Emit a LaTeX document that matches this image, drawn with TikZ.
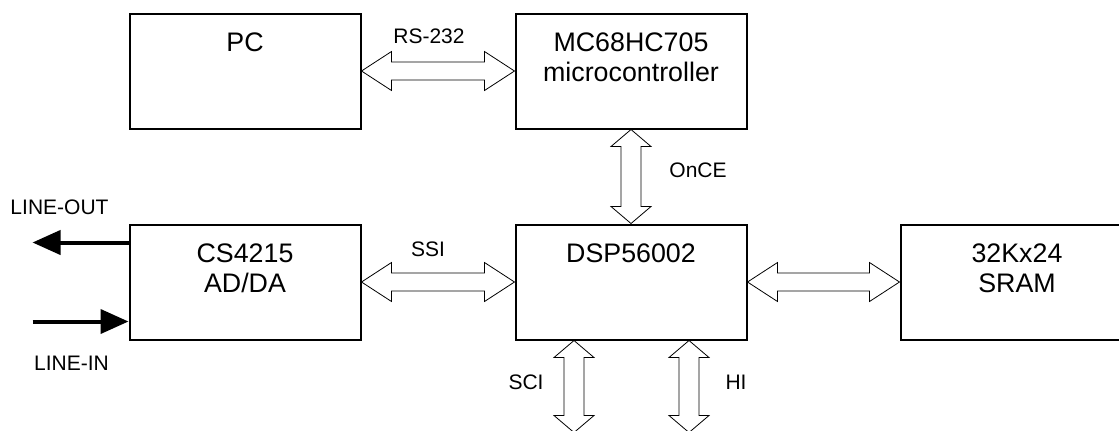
\documentclass[tikz,border=0pt]{standalone}
\usepackage{fontspec}
\setmainfont{Liberation Sans}
\usetikzlibrary{arrows.meta, positioning, calc}

\begin{document}
\begin{tikzpicture}[node distance=47pt and 76.5pt,
    block/.style={draw, line width=1pt, minimum width=115.5pt, minimum height=57.5pt, inner sep=0pt},
    blocktext/.style={anchor=north, yshift=-10pt, inner sep=0pt, align=center, font=\fontsize{13.4}{15}\selectfont},
    lbl/.style={inner sep=0pt, font=\fontsize{10.5}{12}\selectfont},
    sig/.style={line width=2pt, -{Triangle[length=14pt, width=12pt]}},
    hbus/.style={draw, line width=1pt, to path={(\tikztostart) -- ++(15pt,9.75pt) -- ++(0,-5.25pt)
        -- ($(\tikztotarget)+(-15pt,4.5pt)$) -- ++(0,5.25pt) -- (\tikztotarget) -- ++(-15pt,-9.75pt)
        -- ++(0,5.25pt) -- ($(\tikztostart)+(15pt,-4.5pt)$) -- ++(0,-5.25pt) -- cycle}},
    vbus/.style={draw, line width=1pt, to path={(\tikztostart) -- ++(10pt,-8.5pt) -- ++(-5pt,0)
        -- ($(\tikztotarget)+(5pt,8.5pt)$) -- ++(5pt,0) -- (\tikztotarget) -- ++(-10pt,8.5pt)
        -- ++(5pt,0) -- ($(\tikztostart)+(-5pt,-8.5pt)$) -- ++(-5pt,0) -- cycle}}]
    \useasboundingbox (0,0) rectangle (559.5pt,-215pt);

    \node[block, label={[blocktext]north:PC}] (pc) at (122.5pt,-35.5pt) {};
    \node[block, right=of pc, label={[blocktext]north:MC68HC705\\microcontroller}] (mc) {};
    \node[block, below=of mc, label={[blocktext]north:DSP56002}] (dsp) {};
    \node[block, left=of dsp, label={[blocktext]north:CS4215\\AD/DA}] (cs) {};
    \node[block, minimum width=150pt, right=76pt of dsp,
        label={[blocktext, xshift=-16.75pt]north:32Kx24\\SRAM}] (sram) {};

    \coordinate (sciout) at ($(dsp.south)+(-28.5pt,-46pt)$);
    \coordinate (hiout) at ($(dsp.south)+(29pt,-46pt)$);
    \coordinate (outend) at ($(cs.north west)+(-48pt,-9.5pt)$);
    \coordinate (inend) at ($(cs.south west)+(-48pt,9.5pt)$);

    \draw (pc.east) to[hbus] (mc.west);
    \draw (cs.east) to[hbus] (dsp.west);
    \draw (dsp.east) to[hbus] (sram.west);
    \draw (mc.south) to[vbus] (dsp.north);
    \draw (dsp.south -| sciout) to[vbus] (sciout);
    \draw (dsp.south -| hiout) to[vbus] (hiout);
    \draw[sig] (cs.west |- outend) -- (outend);
    \draw[sig] (inend) -- (cs.west |- inend);

    \node[lbl] (rs232) at ($(pc.east)!.5!(mc.west)+(-4.5pt,17.5pt)$) {RS-232};
    \node[lbl] (ssi) at ($(cs.east)!.5!(dsp.west)+(-5pt,16.5pt)$) {SSI};
    \node[lbl] (once) at ($(mc.south)!.5!(dsp.north)+(33.5pt,3pt)$) {OnCE};
    \node[lbl] (sci) at ($(sciout)+(-24pt,25pt)$) {SCI};
    \node[lbl] (hi) at ($(hiout)+(23.5pt,25pt)$) {HI};
    \node[lbl] (lineout) at ($(outend)+(13.5pt,17.5pt)$) {LINE-OUT};
    \node[lbl] (linein) at ($(inend)+(19.5pt,-21pt)$) {LINE-IN};
\end{tikzpicture}
\end{document}
